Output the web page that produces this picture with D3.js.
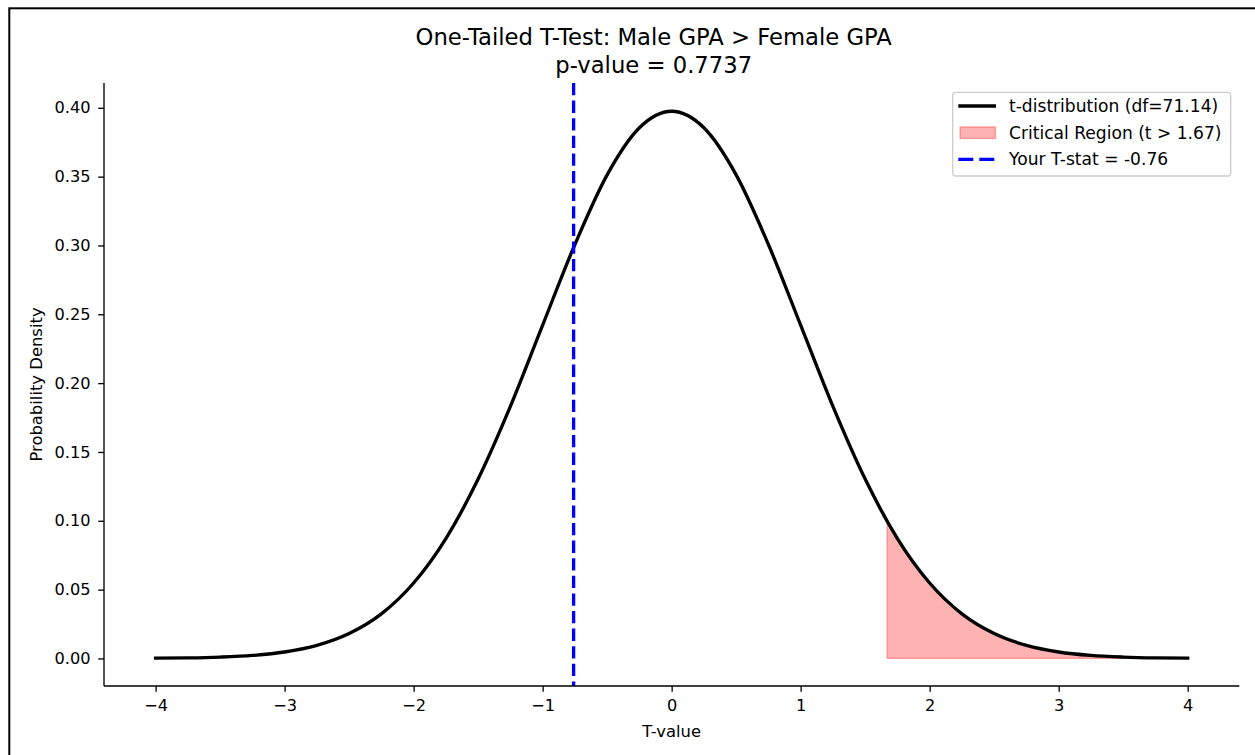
<!DOCTYPE html>
<html>
<head>
<meta charset="utf-8">
<script src="https://cdn.jsdelivr.net/npm/d3@7"></script>
<style>
  html, body { margin: 0; padding: 0; background: #fff; }
  svg { display: block; }
  text { font-family: "DejaVu Sans", sans-serif; fill: #000; }
</style>
</head>
<body>
<svg id="chart" width="1255" height="755"></svg>
<script>
// t-distribution density curve (df = 71.14), sampled every 0.25
const tValues = [-4, -3.75, -3.5, -3.25, -3, -2.75, -2.5, -2.25, -2, -1.75, -1.5, -1.25, -1, -0.75, -0.5, -0.25,
                 0, 0.25, 0.5, 0.75, 1, 1.25, 1.5, 1.75, 2, 2.25, 2.5, 2.75, 3, 3.25, 3.5, 3.75, 4];
const densities = [0.0002, 0.0004, 0.0010, 0.0022, 0.0047, 0.0095, 0.0181, 0.0324, 0.0548, 0.0871, 0.1303, 0.1831, 0.2421, 0.3007, 0.3513, 0.3855,
                   0.3975, 0.3855, 0.3513, 0.3007, 0.2421, 0.1831, 0.1303, 0.0871, 0.0548, 0.0324, 0.0181, 0.0095, 0.0047, 0.0022, 0.0010, 0.0004, 0.0002];

// shaded critical region, t > 1.67
const critT = [1.67, 1.75, 2, 2.25, 2.5, 2.75, 3, 3.25, 3.5, 3.75, 4];
const critDensity = [0.0990, 0.0871, 0.0548, 0.0324, 0.0181, 0.0095, 0.0047, 0.0022, 0.0010, 0.0004, 0.0002];

const tStat = -0.76;
const xTicks = [-4, -3, -2, -1, 0, 1, 2, 3, 4];
const yTicks = [0.00, 0.05, 0.10, 0.15, 0.20, 0.25, 0.30, 0.35, 0.40];
const titleLines = ["One-Tailed T-Test: Male GPA > Female GPA", "p-value = 0.7737"];
const legendLabels = ["t-distribution (df=71.14)", "Critical Region (t > 1.67)", "Your T-stat = -0.76"];

const svg = d3.select("#chart");
const axLeft = 104, axRight = 1239.3, axTop = 83, axBottom = 686;

const x = d3.scaleLinear().domain([-4.4, 4.4]).range([axLeft, axRight]);
const y = d3.scaleLinear().domain([-0.02, 0.418]).range([axBottom, axTop]);

// outer frame
svg.append("rect")
  .attr("x", 9.3).attr("y", 8.3).attr("width", 1300).attr("height", 800)
  .attr("fill", "none").attr("stroke", "#000").attr("stroke-width", 2);

// clip to axes
svg.append("clipPath").attr("id", "plotClip")
  .append("rect").attr("x", axLeft).attr("y", axTop)
  .attr("width", axRight - axLeft).attr("height", axBottom - axTop);

const plot = svg.append("g").attr("clip-path", "url(#plotClip)");
const curve = d3.curveMonotoneX;

// critical region fill
const crit = critT.map((t, i) => [t, critDensity[i]]);
plot.append("path")
  .datum(crit)
  .attr("d", d3.area().x(d => x(d[0])).y0(y(0)).y1(d => y(d[1])).curve(curve))
  .attr("fill", "rgba(255,0,0,0.3)")
  .attr("stroke", "rgba(255,0,0,0.3)")
  .attr("stroke-width", 1.3);

// density curve
const pts = tValues.map((t, i) => [t, densities[i]]);
plot.append("path")
  .datum(pts)
  .attr("d", d3.line().x(d => x(d[0])).y(d => y(d[1])).curve(curve))
  .attr("fill", "none")
  .attr("stroke", "#000")
  .attr("stroke-width", 3.33)
  .attr("stroke-linecap", "square");

// observed t statistic
plot.append("line")
  .attr("x1", x(tStat)).attr("x2", x(tStat))
  .attr("y1", axTop).attr("y2", axBottom)
  .attr("stroke", "#0000ff")
  .attr("stroke-width", 3.33)
  .attr("stroke-dasharray", "12.3,5.3");

// axes
const xAxis = d3.axisBottom(x).tickValues(xTicks).tickSize(5.8).tickPadding(7.8)
  .tickFormat(d => d < 0 ? "\u2212" + Math.abs(d) : String(d));
const yAxis = d3.axisLeft(y).tickValues(yTicks).tickSize(5.8).tickPadding(7.6)
  .tickFormat(d3.format(".2f"));

const gx = svg.append("g").attr("transform", `translate(0,${axBottom})`).call(xAxis);
const gy = svg.append("g").attr("transform", `translate(${axLeft},0)`).call(yAxis);
[gx, gy].forEach(g => {
  g.select(".domain").attr("stroke", "#000").attr("stroke-width", 1.33);
  g.selectAll(".tick line").attr("stroke", "#000").attr("stroke-width", 1.33);
  g.selectAll(".tick text").attr("font-family", "DejaVu Sans").attr("font-size", 16.2).attr("fill", "#000");
});
// spine extents match the axes box
gx.select(".domain").attr("d", `M${axLeft},0H${axRight}`);
gy.select(".domain").attr("d", `M0,${axBottom}V${axTop}`);

// axis labels
svg.append("text")
  .attr("x", (axLeft + axRight) / 2).attr("y", 736.5)
  .attr("text-anchor", "middle").attr("font-size", 16.4)
  .text("T-value");
svg.append("text")
  .attr("transform", `translate(42,${(axTop + axBottom) / 2}) rotate(-90)`)
  .attr("text-anchor", "middle").attr("font-size", 16.4)
  .text("Probability Density");

// title
svg.selectAll(".title").data(titleLines).enter().append("text")
  .attr("class", "title")
  .attr("x", 653.7)
  .attr("y", (d, i) => 45 + i * 28.3)
  .attr("text-anchor", "middle")
  .attr("font-size", 22.7)
  .text(d => d);

// legend
const lg = svg.append("g");
lg.append("rect")
  .attr("x", 952.7).attr("y", 92.3).attr("width", 278).attr("height", 83.7)
  .attr("rx", 3.3).attr("ry", 3.3)
  .attr("fill", "rgba(255,255,255,0.8)")
  .attr("stroke", "#cccccc").attr("stroke-width", 1.33);

const rowY = [106, 132.7, 159.3];
lg.append("line")
  .attr("x1", 958.3).attr("x2", 996).attr("y1", rowY[0]).attr("y2", rowY[0])
  .attr("stroke", "#000").attr("stroke-width", 3.33);
lg.append("rect")
  .attr("x", 960).attr("y", rowY[1] - 5.8).attr("width", 35.5).attr("height", 11.6)
  .attr("fill", "rgba(255,0,0,0.3)")
  .attr("stroke", "rgba(255,0,0,0.3)").attr("stroke-width", 1.3);
lg.append("line")
  .attr("x1", 958.3).attr("x2", 996).attr("y1", rowY[2]).attr("y2", rowY[2])
  .attr("stroke", "#0000ff").attr("stroke-width", 3.33)
  .attr("stroke-dasharray", "15,6");

lg.selectAll(".lbl").data(legendLabels).enter().append("text")
  .attr("class", "lbl")
  .attr("x", 1009)
  .attr("y", (d, i) => rowY[i])
  .attr("dy", "0.36em")
  .attr("font-size", 17.1)
  .text(d => d);
</script>
</body>
</html>
